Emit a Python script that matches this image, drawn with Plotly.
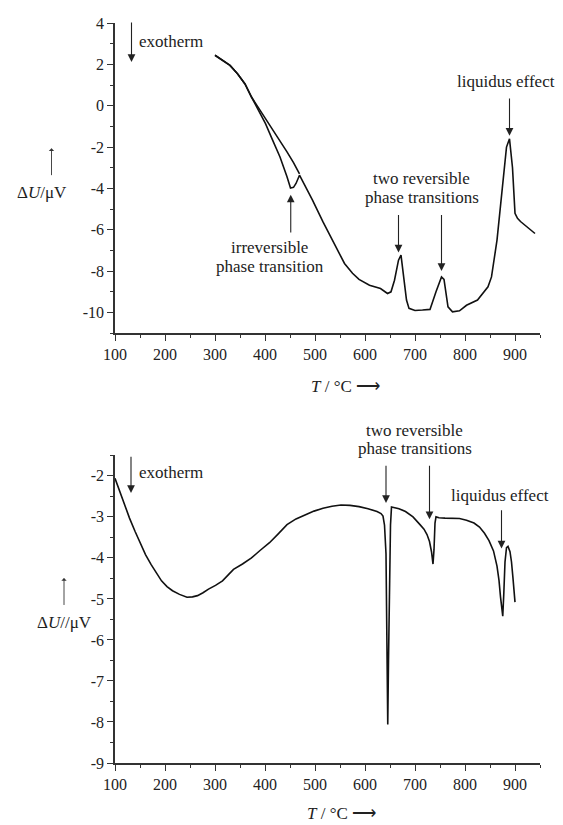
import plotly.graph_objects as go

# ---------------- data ----------------
# Top panel: main (heating) curve
top_T = [300, 315, 330, 345, 360, 373, 387, 401, 415, 430, 444, 451, 457, 462, 469,
         480, 495, 516, 538, 559, 575, 588, 609, 631, 645, 652, 659, 667, 672, 677,
         683, 688, 700, 715, 730, 742, 748, 753, 758, 762, 766, 775, 789, 803, 825,
         846, 853, 864, 875, 883, 889, 895, 900, 905, 911, 925, 940]
top_U = [2.44, 2.2, 1.95, 1.55, 1.05, 0.42, -0.2, -0.87, -1.65, -2.48, -3.44, -3.98, -3.95, -3.76, -3.36,
         -3.85, -4.57, -5.62, -6.66, -7.63, -8.1, -8.4, -8.68, -8.84, -9.08, -9.0, -8.44, -7.47, -7.23, -8.11,
         -9.4, -9.8, -9.9, -9.88, -9.85, -9.0, -8.55, -8.28, -8.4, -9.2, -9.73, -9.97, -9.92, -9.65, -9.4,
         -8.76, -8.28, -6.5, -3.77, -2.0, -1.6, -3.0, -5.2, -5.45, -5.6, -5.86, -6.18]
# Top panel: second branch (no irreversible dip)
top2_T = [300, 315, 330, 345, 360, 373, 387, 401, 415, 430, 444, 457, 469]
top2_U = [2.44, 2.2, 1.95, 1.55, 1.05, 0.42, -0.1, -0.6, -1.12, -1.67, -2.23, -2.75, -3.3]

# Bottom panel curve
bot_T = [100, 107, 114, 121, 129, 140, 150, 161, 172, 183, 193, 204, 215, 229, 244, 255, 265, 276,
         287, 301, 315, 326, 337, 355, 373, 390, 409, 426, 444, 462, 480, 498, 516, 534, 552, 570,
         588, 606, 624, 632, 636, 639, 642, 644, 645.5, 647, 649, 651, 653, 656, 668, 681, 696, 710,
         718, 724, 729, 733, 736, 738, 740, 742, 748, 760, 775, 789, 803, 818, 829, 839, 848, 857,
         864, 868, 871, 873.5, 875.5, 877.5, 880, 883, 886, 890, 893, 896, 898, 900]
bot_U = [-2.06, -2.3, -2.55, -2.78, -3.03, -3.35, -3.63, -3.92, -4.16, -4.38, -4.56, -4.7, -4.8, -4.89,
         -4.96, -4.95, -4.92, -4.85, -4.76, -4.67, -4.56, -4.42, -4.28, -4.15, -4.0, -3.82, -3.63, -3.42,
         -3.19, -3.05, -2.95, -2.86, -2.79, -2.74, -2.71, -2.72, -2.75, -2.8, -2.87, -2.92, -2.98, -3.2,
         -3.9, -6.0, -8.06, -6.5, -4.5, -3.2, -2.76, -2.77, -2.8, -2.87, -3.0, -3.19, -3.3, -3.43, -3.6,
         -3.85, -4.15, -3.8, -3.15, -3.0, -3.02, -3.03, -3.03, -3.04, -3.08, -3.15, -3.25, -3.4, -3.58,
         -3.83, -4.2, -4.55, -4.95, -5.3, -5.42, -4.9, -4.1, -3.75, -3.72, -3.85, -4.1, -4.5, -4.8, -5.08]

x_tickvals = [100, 200, 300, 400, 500, 600, 700, 800, 900]
x_ticktext = ["100", "200", "300", "400", "500", "600", "700", "800", "900"]
top_y_tickvals = [4, 2, 0, -2, -4, -6, -8, -10]
top_y_ticktext = ["4", "2", "0", "-2", "-4", "-6", "-8", "-10"]
bot_y_tickvals = [-2, -3, -4, -5, -6, -7, -8, -9]
bot_y_ticktext = ["-2", "-3", "-4", "-5", "-6", "-7", "-8", "-9"]

# ---------------- layout helpers ----------------
# the page body has an 8px default margin, so the figure is drawn 8px in from the corner
OFF = 8
PAGE_W, PAGE_H = 563, 825
W, H = PAGE_W - OFF, PAGE_H - OFF
PLOT_L, PLOT_R, PLOT_T, PLOT_B = 115, 540, 23, 763.3   # page pixels of the plotting area
ML, MT = PLOT_L - OFF, PLOT_T - OFF
MR, MB = W - (PLOT_R - OFF), H - (PLOT_B - OFF)
PW, PH = W - ML - MR, H - MT - MB


def fy(py):  # page pixel y (from top) -> paper fraction
    return ((H - MB) - (py - OFF)) / PH


def fx(px):
    return (px - OFF - ML) / PW


FONT = "Liberation Serif, Times New Roman, serif"
INK = "#222222"
LINE = dict(color="#111111", width=1.6)

fig = go.Figure()
fig.add_trace(go.Scatter(x=top2_T, y=top2_U, mode="lines", line=LINE, xaxis="x", yaxis="y",
                         showlegend=False, hoverinfo="skip"))
fig.add_trace(go.Scatter(x=top_T, y=top_U, mode="lines", line=LINE, xaxis="x", yaxis="y",
                         showlegend=False))
fig.add_trace(go.Scatter(x=bot_T, y=bot_U, mode="lines", line=LINE, xaxis="x2", yaxis="y2",
                         showlegend=False))

axis_common = dict(showline=True, linecolor="#333333", linewidth=1.5, ticks="outside",
                   tickcolor="#333333", tickwidth=1.2, ticklen=6, showgrid=False, zeroline=False,
                   tickfont=dict(family=FONT, size=16, color=INK), mirror=False)

fig.update_layout(
    width=W, height=H, paper_bgcolor="white", plot_bgcolor="white",
    margin=dict(l=ML, r=MR, t=MT, b=MB, autoexpand=False),
    font=dict(family=FONT, size=17, color=INK),
    xaxis=dict(axis_common, range=[100, 950], domain=[0, 1], anchor="y",
               tickvals=x_tickvals, ticktext=x_ticktext,
               minor=dict(dtick=50, tick0=100, ticks="outside", ticklen=3, tickcolor="#333333")),
    yaxis=dict(axis_common, range=[-11, 4], domain=[fy(333.3), 1.0], anchor="x",
               tickvals=top_y_tickvals, ticktext=top_y_ticktext,
               minor=dict(dtick=1, tick0=0, ticks="outside", ticklen=3, tickcolor="#333333")),
    xaxis2=dict(axis_common, range=[100, 950], domain=[0, 1], anchor="y2",
                tickvals=x_tickvals, ticktext=x_ticktext,
                minor=dict(dtick=50, tick0=100, ticks="outside", ticklen=3, tickcolor="#333333")),
    yaxis2=dict(axis_common, range=[-9, -1.5], domain=[0, fy(455.5)], anchor="x2",
                tickvals=bot_y_tickvals, ticktext=bot_y_ticktext,
                minor=dict(dtick=0.5, tick0=0, ticks="outside", ticklen=3, tickcolor="#333333")),
)

ann = []
TF = dict(family=FONT, size=17, color=INK)


def text(x, y, s, xr, yr, xanchor="center"):
    ann.append(dict(x=x, y=y, xref=xr, yref=yr, text=s, showarrow=False, font=TF,
                    xanchor=xanchor, yanchor="middle", borderpad=0))


def arrow(x, y, ax, ay, xr, yr):
    ann.append(dict(x=x, y=y, ax=ax, ay=ay, xref=xr, yref=yr, axref=xr, ayref=yr, text="",
                    showarrow=True, arrowhead=2, arrowsize=1.4, arrowwidth=1.1,
                    arrowcolor="#222222", standoff=0, startstandoff=0))


# top panel annotations
arrow(133, 2.12, 133, 4.1, "x", "y")
text(146, 3.1, "exotherm", "x", "y", xanchor="left")
text(882, 1.15, "liquidus effect", "x", "y")
arrow(889, -1.45, 889, 0.42, "x", "y")
text(713, -3.5, "two reversible", "x", "y")
text(713, -4.43, "phase transitions", "x", "y")
arrow(667, -7.1, 667, -5.21, "x", "y")
arrow(753, -7.99, 753, -5.21, "x", "y")
arrow(451.5, -4.3, 451.5, -6.2, "x", "y")
text(409, -6.88, "irreversible", "x", "y")
text(409, -7.78, "phase transition", "x", "y")

# bottom panel annotations
arrow(132, -2.42, 132, -1.5, "x2", "y2")
text(146, -1.93, "exotherm", "x2", "y2", xanchor="left")
# the heading sits above the axis range, so it is placed in paper space
for py, s in [(431, "two reversible"), (448.5, "phase transitions")]:
    ann.append(dict(x=fx(414.5), y=fy(py), xref="paper", yref="paper", text=s, showarrow=False,
                    font=TF, xanchor="center", yanchor="middle", borderpad=0))
arrow(642, -2.66, 642, -1.72, "x2", "y2")
arrow(729, -3.06, 729, -1.72, "x2", "y2")
text(870, -2.48, "liquidus effect", "x2", "y2")
arrow(873, -3.77, 873, -2.8, "x2", "y2")

# axis titles (as annotations to place them exactly)
for px, py, s in [(345, 387, "<i>T</i> / °C ⟶"), (341, 814, "<i>T</i> / °C ⟶")]:
    ann.append(dict(x=fx(px), y=fy(py), xref="paper", yref="paper", text=s, showarrow=False,
                    font=TF, xanchor="center", yanchor="middle"))
for px, py, s, ay0, ay1 in [(41.5, 192.7, "Δ<i>U</i>/μV", 176.7, 148.3),
                            (64, 622.7, "Δ<i>U</i>//μV", 606.7, 578.3)]:
    ann.append(dict(x=fx(px), y=fy(py), xref="paper", yref="paper", text=s, showarrow=False,
                    font=TF, xanchor="center", yanchor="middle"))
    xa = px + (10 if px < 50 else 0)
    ann.append(dict(x=fx(xa), y=fy(ay1), xref="paper", yref="paper", text="", showarrow=True,
                    ax=0, ay=ay0 - ay1, arrowhead=1, arrowsize=1.0, arrowwidth=0.9,
                    arrowcolor="#333333", standoff=0))

fig.update_layout(annotations=ann)
fig.write_html("out.html")
